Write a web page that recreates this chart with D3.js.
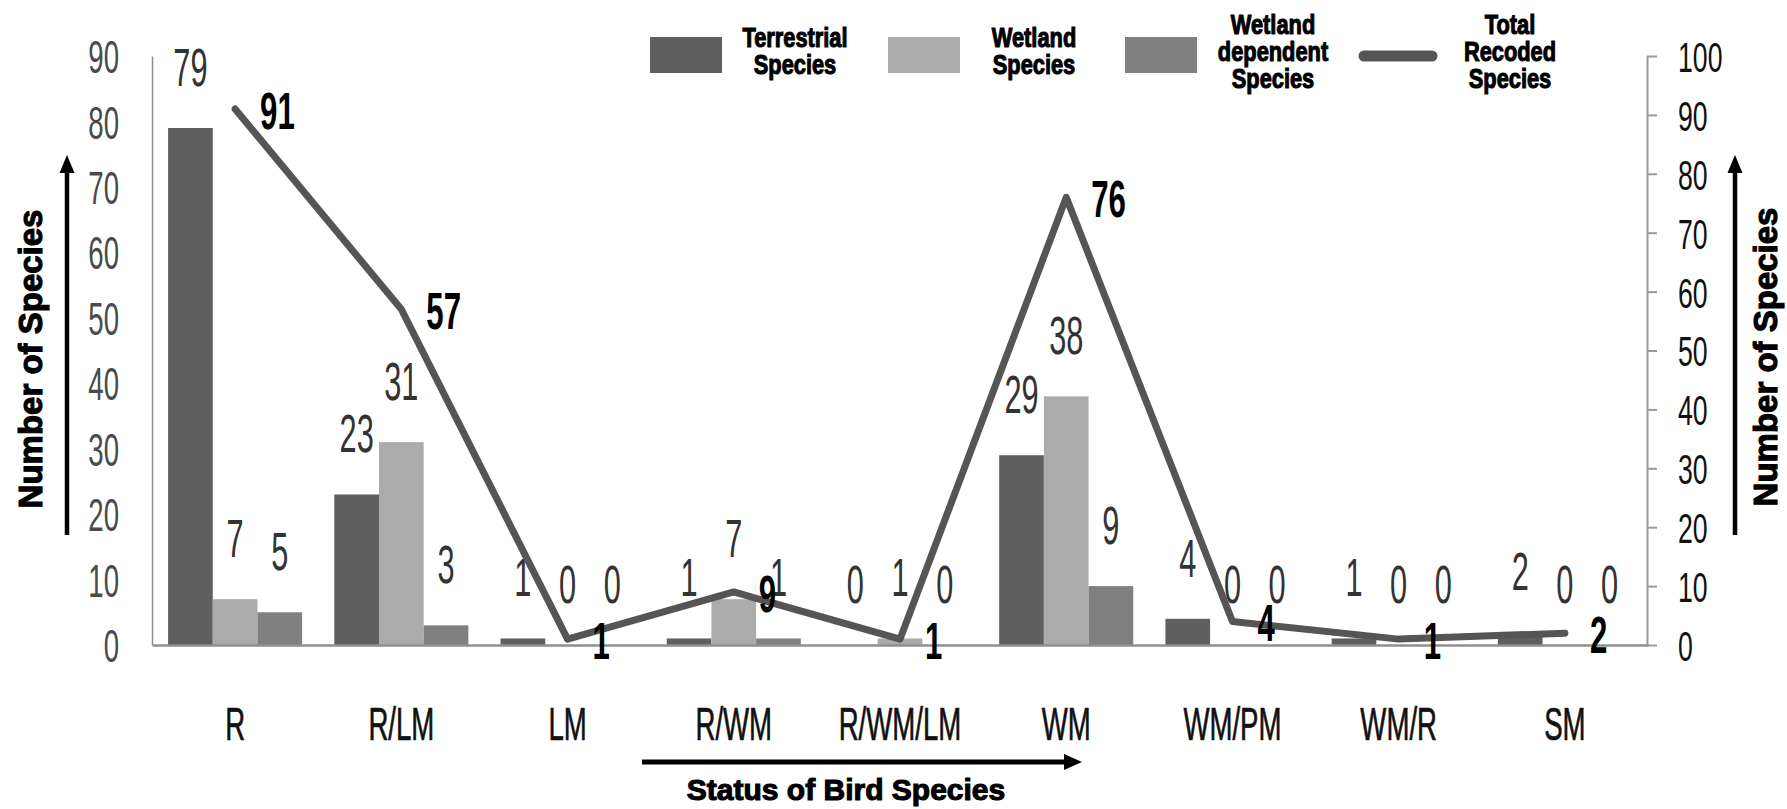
<!DOCTYPE html>
<html>
<head>
<meta charset="utf-8">
<script src="https://cdn.jsdelivr.net/npm/d3@7"></script>
<style>
  html, body { margin: 0; padding: 0; background: #ffffff; }
  svg { display: block; }
  text { font-family: "Liberation Sans", Arial, sans-serif; }
</style>
</head>
<body>
<svg id="chart" width="1787" height="809"></svg>
<script>
// ---- data ----
const categories = ["R", "R/LM", "LM", "R/WM", "R/WM/LM", "WM", "WM/PM", "WM/R", "SM"];
const terrestrial = [79, 23, 1, 1, 0, 29, 4, 1, 2];
const wetland = [7, 31, 0, 7, 1, 38, 0, 0, 0];
const wetlandDependent = [5, 3, 0, 1, 0, 9, 0, 0, 0];
const totalRecorded = [91, 57, 1, 9, 1, 76, 4, 1, 2];
const barSeriesNames = ["Terrestrial Species", "Wetland Species", "Wetland dependent Species"];
const lineSeriesName = "Total Recoded Species";
const leftTicks = [0, 10, 20, 30, 40, 50, 60, 70, 80, 90];
const rightTicks = [0, 10, 20, 30, 40, 50, 60, 70, 80, 90, 100];
const yTitle = "Number of Species";
const xTitle = "Status of Bird Species";

// ---- layout ----
const W = 1787, H = 809;
const plotLeft = 152, plotRight = 1648, plotTop = 56, plotBase = 645;
const barColors = ["#5f5f5f", "#ababab", "#808080"];
const lineColor = "#555555";

const svg = d3.select("#chart");
svg.append("rect").attr("width", W).attr("height", H).attr("fill", "#ffffff");

const barSeries = [terrestrial, wetland, wetlandDependent];

const x0 = d3.scaleBand().domain(categories).range([plotLeft, plotRight]).padding(0);
const x1 = d3.scaleBand().domain(d3.range(barSeries.length)).range([0, x0.bandwidth()])
  .paddingInner(0).paddingOuter(0.36);
const yL = d3.scaleLinear().domain([0, 90]).range([plotBase, plotTop]);
const yR = d3.scaleLinear().domain([0, 100]).range([plotBase, plotTop]);

// text drawn with a horizontal squeeze, as in the narrow chart lettering
function sText(parent, x, y, str, o) {
  return parent.append("text")
    .attr("transform", `translate(${x},${y}) scale(${o.sx || 1},${o.sy || 1})`)
    .attr("text-anchor", o.anchor || "middle")
    .attr("font-size", o.size)
    .attr("font-weight", o.weight || "normal")
    .attr("fill", o.fill || "#000")
    .attr("stroke", o.stroke || "none")
    .attr("stroke-width", o.strokeWidth || 0)
    .text(str);
}

// ---- bars ----
const gBars = svg.append("g");
categories.forEach((cat, i) => {
  barSeries.forEach((vals, k) => {
    const v = vals[i];
    gBars.append("rect")
      .attr("x", x0(cat) + x1(k))
      .attr("y", yL(v))
      .attr("width", x1.bandwidth())
      .attr("height", plotBase - yL(v))
      .attr("fill", barColors[k]);
  });
});

// ---- axes ----
const axL = svg.append("g").attr("transform", `translate(${plotLeft},0)`)
  .call(d3.axisLeft(yL).tickValues(leftTicks).tickSize(0).tickPadding(0));
axL.select(".domain").attr("stroke", "#8c8c8c").attr("stroke-width", 1.5);
axL.selectAll(".tick text")
  .attr("x", null).attr("dy", "0.36em")
  .attr("transform", "translate(-33,0) scale(0.6,1)")
  .attr("text-anchor", "end")
  .attr("font-family", null)
  .attr("font-size", 46)
  .attr("fill", "#4a4a4a");

const axR = svg.append("g").attr("transform", `translate(${plotRight - 1},0)`)
  .call(d3.axisRight(yR).tickValues(rightTicks).tickSize(10).tickSizeOuter(0));
axR.select(".domain").attr("stroke", "#9a9a9a").attr("stroke-width", 2);
axR.selectAll(".tick line").attr("stroke", "#9a9a9a").attr("stroke-width", 2);
axR.selectAll(".tick text")
  .attr("x", null).attr("dy", "0.36em")
  .attr("transform", "translate(31,0) scale(0.62,1)")
  .attr("text-anchor", "start")
  .attr("font-family", null)
  .attr("font-size", 43)
  .attr("fill", "#111");

const axB = svg.append("g").attr("transform", `translate(0,${plotBase})`)
  .call(d3.axisBottom(x0).tickSize(0).tickSizeOuter(0));
axB.select(".domain").attr("stroke", "#8f8f8f").attr("stroke-width", 2.5);
axB.selectAll(".tick text")
  .attr("y", null).attr("dy", null)
  .attr("transform", "translate(0,95) scale(0.6,1)")
  .attr("font-family", null)
  .attr("font-size", 46)
  .attr("fill", "#111")
  .attr("stroke", "#111")
  .attr("stroke-width", 0.7);

// ---- bar value labels ----
const gBarLabels = svg.append("g");
categories.forEach((cat, i) => {
  barSeries.forEach((vals, k) => {
    const v = vals[i];
    const cx = x0(cat) + x1(k) + x1.bandwidth() / 2;
    sText(gBarLabels, cx, yL(v) - 42, String(v), { size: 53, sx: 0.58, fill: "#333333" });
  });
});

// ---- total line ----
const lineGen = d3.line()
  .x((d, i) => x0(categories[i]) + x0.bandwidth() / 2)
  .y(d => yR(d));
svg.append("path")
  .datum(totalRecorded)
  .attr("d", lineGen)
  .attr("fill", "none")
  .attr("stroke", lineColor)
  .attr("stroke-width", 7)
  .attr("stroke-linejoin", "round")
  .attr("stroke-linecap", "round");

const gLineLabels = svg.append("g");
totalRecorded.forEach((v, i) => {
  const px = x0(categories[i]) + x0.bandwidth() / 2;
  sText(gLineLabels, px + 25, yR(v) + 20, String(v),
    { size: 52, sx: 0.6, anchor: "start", weight: "bold", fill: "#000" });
});

// ---- axis titles and arrows ----
const heavy = { weight: "bold", fill: "#000", stroke: "#000", strokeWidth: 1.1 };

function vArrow(x, yTip, yEnd) {
  svg.append("line").attr("x1", x).attr("x2", x).attr("y1", yEnd).attr("y2", yTip + 14)
    .attr("stroke", "#000").attr("stroke-width", 4.5);
  svg.append("path")
    .attr("d", `M${x},${yTip} L${x - 7.5},${yTip + 18} L${x + 7.5},${yTip + 18} Z`)
    .attr("fill", "#000");
}
vArrow(67, 155, 535);
vArrow(1735, 155, 535);

[[42, 359], [1777, 357]].forEach(([tx, ty]) => {
  svg.append("text")
    .attr("transform", `translate(${tx},${ty}) rotate(-90)`)
    .attr("text-anchor", "middle")
    .attr("font-size", 33).attr("font-weight", "bold")
    .attr("fill", "#000").attr("stroke", "#000").attr("stroke-width", 1.1)
    .text(yTitle);
});

// horizontal arrow above the category title
svg.append("line").attr("x1", 642).attr("x2", 1070).attr("y1", 762).attr("y2", 762)
  .attr("stroke", "#000").attr("stroke-width", 5);
svg.append("path").attr("d", "M1082,762 L1064,754 L1064,770 Z").attr("fill", "#000");
sText(svg, 846, 800, xTitle, Object.assign({ size: 30, sx: 1.0 }, heavy));

// ---- legend ----
const gLeg = svg.append("g");
const swatchX = [650, 888, 1125];
const legTextX = [795, 1034, 1273];
function legendLabel(cx, lines) {
  const gap = 27;
  const first = lines.length === 2 ? 47 : 34;
  lines.forEach((ln, j) => {
    sText(gLeg, cx, first + j * gap, ln,
      { size: 28, sx: 0.78, weight: "bold", fill: "#000", stroke: "#000", strokeWidth: 1.1 });
  });
}
barSeriesNames.forEach((name, k) => {
  gLeg.append("rect").attr("x", swatchX[k]).attr("y", 37).attr("width", 72).attr("height", 36)
    .attr("fill", barColors[k]);
  legendLabel(legTextX[k], name.split(" "));
});
gLeg.append("line").attr("x1", 1364).attr("x2", 1432).attr("y1", 56).attr("y2", 56)
  .attr("stroke", lineColor).attr("stroke-width", 11).attr("stroke-linecap", "round");
legendLabel(1510, lineSeriesName.split(" "));
</script>
</body>
</html>
